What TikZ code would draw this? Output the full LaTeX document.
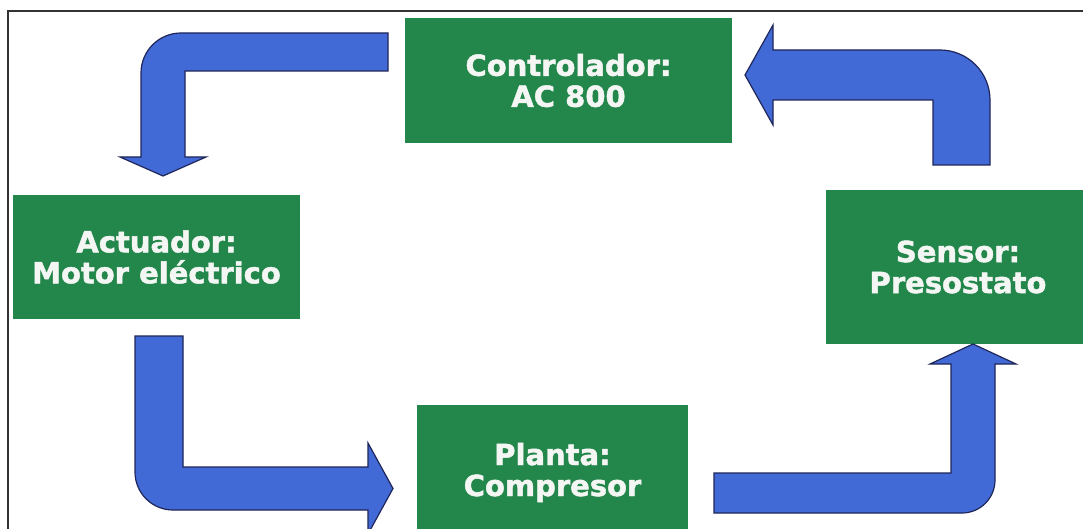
\documentclass[tikz,border=0pt]{standalone}
\usepackage{fontspec}
\setmainfont{DejaVu Sans}
\newfontfamily\heavyfont[FakeBold=1.6]{DejaVu Sans Bold}
\definecolor{boxgreen}{RGB}{35,135,75}
\definecolor{arrowblue}{RGB}{66,106,214}
\definecolor{arrowedge}{RGB}{30,38,90}
\definecolor{boxtext}{RGB}{244,246,244}
\tikzset{
  blockbox/.style={rectangle, fill=boxgreen, text=boxtext, align=center, inner sep=0pt,
    font=\heavyfont\fontsize{29}{31}\selectfont},
  blockarrow/.style={fill=arrowblue, draw=arrowedge, line width=1.2pt, line join=miter},
  frameline/.style={draw=black!80, line width=1.6pt}
}
\begin{document}
\begin{tikzpicture}[x=1pt,y=-1pt]
\useasboundingbox (0,0) rectangle (1083,529);
\begin{scope}
\clip (0,0) rectangle (1083,529);
\fill[white] (0,0) rectangle (1083,529);
\draw[frameline] (8,530) -- (8,11) -- (1084,11);

% boxes
\node[blockbox, minimum width=327pt, minimum height=125pt] (ctrl) at (568.5,80.5) {Controlador:\\AC 800};
\node[blockbox, minimum width=287pt, minimum height=124pt] (act) at (156.5,257) {Actuador:\\Motor eléctrico};
\node[blockbox, minimum width=264pt, minimum height=154pt] (sens) at (958,267) {Sensor:\\Presostato};
\node[blockbox, minimum width=271pt, minimum height=135pt] (plant) at (552.5,472.5) {Planta:\\Compresor};

% controller -> actuator
\draw[blockarrow] (388,33) -- (181,33) .. controls (158.9,33) and (141,50.9) .. (141,73)
  -- (141,157) -- (120,157) -- (163,176) -- (206,157) -- (185,157) -- (185,71) -- (388,71) -- cycle;

% sensor -> controller
\draw[blockarrow] (933,165) -- (990,165) -- (990,100) .. controls (990,72.4) and (967.6,50) .. (940,50)
  -- (773,50) -- (773,25) -- (745,75) -- (773,125) -- (773,100) -- (933,100) -- cycle;

% actuator -> plant
\draw[blockarrow] (135,336) -- (183,336) -- (183,467) -- (368,467) -- (368,443) -- (393,488.5)
  -- (368,534) -- (368,510) -- (173,510) .. controls (152,510) and (135,493) .. (135,472) -- cycle;

% plant -> sensor
\draw[blockarrow] (714,473) -- (951,473) -- (951,364) -- (930,364) -- (973,344) -- (1016,364)
  -- (995,364) -- (995,480) .. controls (995,498.2) and (980.2,513) .. (962,513) -- (714,513) -- cycle;
\end{scope}
\end{tikzpicture}
\end{document}
